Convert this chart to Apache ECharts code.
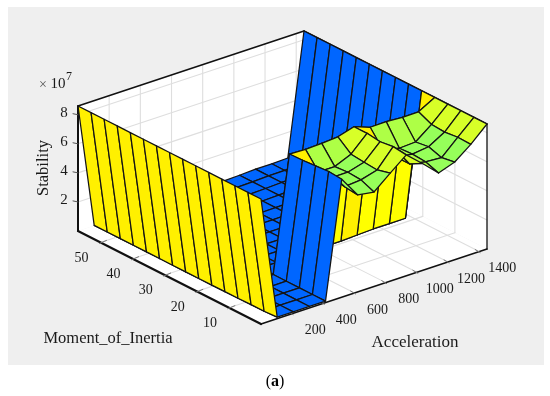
<!DOCTYPE html>
<html>
<head>
<meta charset="utf-8">
<style>html,body{margin:0;padding:0;background:#fff}#c{width:550px;height:396px}</style>
<script src="https://cdn.jsdelivr.net/npm/echarts@6/dist/echarts.min.js"></script>
</head>
<body>
<div id="c"></div>
<script>
// ---------- data ----------
const accelerationGrid = [0,104,207,311,414,518,621,725,829,932,1036,1139,1243,1346,1450];
const momentGrid = [0,4.07,8.14,12.21,16.29,20.36,24.43,28.5,32.57,36.64,40.71,44.79,48.86,52.93,57];
const accelerationTicks = [200,400,600,800,1000,1200,1400];
const momentTicks = [10,20,30,40,50];
const stabilityTicks = [2,4,6,8];
// Stability (x 10^7): one row per acceleration grid value, one column per moment grid value
const stabA00 = [8.6,8.6,8.6,8.6,8.6,8.6,8.6,8.6,8.6,8.6,8.6,8.6,8.6,8.6,8.6];
const stabA01 = [0.1,0.05,0.05,0.03,0.03,0.02,0.02,0.02,0.02,0.02,0.02,0.02,0.02,0.02,0.02];
const stabA02 = [0.1,0.1,0.1,0.1,0.1,0.1,0.1,0.1,0.1,0.1,0.1,0.1,0.1,0.1,0.1];
const stabA03 = [0.1,0.1,0.1,0.1,0.1,0.1,0.1,0.1,0.1,0.1,0.1,0.1,0.1,0.1,0.1];
const stabA04 = [0.1,0.1,0.1,0.1,0.1,0.1,0.1,0.1,0.1,0.1,0.1,0.1,0.1,0.1,0.1];
const stabA05 = [8.12,8.19,8.12,8.05,8.02,0.1,0.1,0.1,0.1,0.1,0.1,0.1,0.1,0.1,0.1];
const stabA06 = [6.67,6.78,6.95,6.88,7.98,0.1,0.1,0.1,0.1,0.1,0.1,0.1,0.1,0.1,0.1];
const stabA07 = [6.5,6.88,6.95,6.88,8.02,0.1,0.1,0.1,0.1,0.1,0.1,0.1,0.1,0.1,0.1];
const stabA08 = [7.43,7.19,7.26,7.36,8.1,0.1,0.1,0.1,0.1,0.1,0.1,0.1,0.1,0.1,0.1];
const stabA09 = [8.32,8.43,8.31,8.43,8.43,0.1,0.1,0.1,0.12,0.12,0.12,0.12,0.12,0.12,0.12];
const stabA10 = [7.36,6.88,6.88,6.88,8.02,0.15,0.15,0.15,0.15,0.15,0.15,0.15,0.15,0.15,0.15];
const stabA11 = [6.33,6.65,6.72,6.67,8.04,0.2,0.2,0.2,0.2,0.2,0.2,0.2,0.2,0.2,0.2];
const stabA12 = [6.72,6.56,6.86,6.73,7.97,0.2,0.2,0.2,0.2,0.2,0.2,0.2,0.2,0.2,0.2];
const stabA13 = [7.57,7.6,7.5,7.57,7.98,0.2,0.2,0.2,0.2,0.2,0.2,0.2,0.2,0.2,0.23];
const stabA14 = [8.6,8.6,8.6,8.6,8.6,8.6,8.6,8.6,8.6,8.6,8.6,8.6,8.6,8.6,8.6];
const stability = [stabA00,stabA01,stabA02,stabA03,stabA04,stabA05,stabA06,stabA07,stabA08,stabA09,stabA10,stabA11,stabA12,stabA13,stabA14];
// facet colour: index into facetPalette for each cell of the surface
const facetPalette = ['#0066FF','#96FF5A','#AEFF46','#D8FF28','#FFF000','#FFFF00'];
const shadeA00 = [4,4,4,4,4,4,4,4,4,4,4,4,4,4];
const shadeLow = [0,0,0,0,0,0,0,0,0,0,0,0,0,0];
const shadeA05 = [1,1,1,4,5,0,0,0,0,0,0,0,0,0];
const shadeA06 = [1,1,1,2,5,0,0,0,0,0,0,0,0,0];
const shadeA07 = [1,1,1,2,5,0,0,0,0,0,0,0,0,0];
const shadeA08 = [3,3,3,3,5,0,0,0,0,0,0,0,0,0];
const shadeA09 = [3,3,3,4,4,0,0,0,0,0,0,0,0,0];
const shadeA10 = [2,2,2,2,5,0,0,0,0,0,0,0,0,0];
const shadeA11 = [1,1,1,2,5,0,0,0,0,0,0,0,0,0];
const shadeA12 = [1,1,1,2,5,0,0,0,0,0,0,0,0,0];
const shadeA13 = [3,3,3,3,4,0,0,0,0,0,0,0,0,0];
const facetShade = [shadeA00,shadeLow,shadeLow,shadeLow,shadeLow,shadeA05,shadeA06,shadeA07,shadeA08,shadeA09,shadeA10,shadeA11,shadeA12,shadeA13];

// ---------- 3D view (axis limits and orthographic view vectors) ----------
const aMax = 1450, mMax = 57, zMax = 8.6;
const viewOrigin = [261,324], viewA = [226,-75], viewM = [-183,-93], viewZ = [0,-125];
function project(a,m,z){
  const u=a/aMax, v=m/mMax, w=z/zMax;
  return [viewOrigin[0]+u*viewA[0]+v*viewM[0]+w*viewZ[0],
          viewOrigin[1]+u*viewA[1]+v*viewM[1]+w*viewZ[1]];
}
const serif = '"Liberation Serif","Times New Roman",serif';
const ink = '#1a1a1a';

function frameItem(params, api){
  const P=(a,m,z)=>api.coord(project(a,m,z));
  const kids=[];
  const poly=(pts,fill)=>kids.push({type:'polygon',shape:{points:pts},style:{fill:fill,stroke:null},silent:true});
  const line=(p,q,color,w)=>kids.push({type:'line',shape:{x1:p[0],y1:p[1],x2:q[0],y2:q[1]},style:{stroke:color,lineWidth:w,lineCap:'round'},silent:true});
  const text=(t,p,size)=>kids.push({type:'text',style:{text:t,x:p[0],y:p[1],font:size+'px '+serif,fill:ink,align:'center',verticalAlign:'middle'},silent:true});
  // white box walls and floor
  poly([P(0,mMax,0),P(aMax,mMax,0),P(aMax,mMax,zMax),P(0,mMax,zMax)],'#fff');
  poly([P(aMax,mMax,0),P(aMax,0,0),P(aMax,0,zMax),P(aMax,mMax,zMax)],'#fff');
  poly([P(0,0,0),P(aMax,0,0),P(aMax,mMax,0),P(0,mMax,0)],'#fff');
  // grid lines
  const g='#dedede';
  accelerationTicks.forEach(a=>{
    line(P(a,0,0),P(a,mMax,0),g,1.1);
    line(P(a,mMax,0),P(a,mMax,zMax),g,1.1);
  });
  momentTicks.forEach(m=>{
    line(P(0,m,0),P(aMax,m,0),g,1.1);
    line(P(aMax,m,0),P(aMax,m,zMax),g,1.1);
  });
  stabilityTicks.forEach(z=>{
    line(P(0,mMax,z),P(aMax,mMax,z),g,1.1);
    line(P(aMax,mMax,z),P(aMax,0,z),g,1.1);
  });
  // box edges
  const e='#111';
  line(P(0,mMax,zMax),P(aMax,mMax,zMax),e,1.6);
  line(P(aMax,mMax,zMax),P(aMax,0,zMax),e,1.5);
  line(P(0,mMax,zMax),P(0,mMax,0),e,2);
  line(P(aMax,0,zMax),P(aMax,0,0),e,1.3);
  line(P(0,mMax,0),P(0,0,0),e,2.2);
  line(P(0,0,0),P(aMax,0,0),e,1.6);
  // ticks and tick labels
  accelerationTicks.forEach(a=>{
    const p=P(a,0,0);
    line([p[0]-4,p[1]-2],[p[0]+1,p[1]+1],'#777',1);
    text(String(a),[p[0]+23,p[1]+17],14);
  });
  momentTicks.forEach(m=>{
    const p=P(0,m,0);
    line([p[0]-1,p[1]+1],[p[0]+6,p[1]-2],'#777',1);
    text(String(m),[p[0]-19,p[1]+15.5],14);
  });
  stabilityTicks.forEach(z=>{
    const p=P(0,mMax,z);
    line([p[0]-5,p[1]-1],[p[0],p[1]],'#555',1);
    text(String(z),[p[0]-14,p[1]-2],15);
  });
  return {type:'group',children:kids};
}

function facetItem(params, api){
  const i=api.value(0), j=api.value(1);
  const V=(r,c)=>api.coord(project(accelerationGrid[r],momentGrid[c],stability[r][c]));
  return {type:'polygon',silent:true,
    shape:{points:[V(i,j),V(i+1,j),V(i+1,j+1),V(i,j+1)]},
    style:{fill:facetPalette[facetShade[i][j]],stroke:'#141414',lineWidth:1.25,lineJoin:'round'}};
}

const facets=[];
for(let i=13;i>=0;i--) for(let j=13;j>=0;j--) facets.push([i,j]);

const chart=echarts.init(document.getElementById('c'),null,{renderer:'canvas'});
chart.setOption({
  animation:false,
  backgroundColor:'#fff',
  grid:{show:true,left:8,top:7,width:536,height:358,backgroundColor:'#EFEFEF',borderWidth:0},
  xAxis:{type:'value',min:8,max:544,show:false},
  yAxis:{type:'value',min:7,max:365,inverse:true,show:false},
  series:[
    {type:'custom',name:'box',coordinateSystem:'cartesian2d',clip:false,silent:true,z:1,data:[[0,0]],renderItem:frameItem},
    {type:'custom',name:'Stability surface',coordinateSystem:'cartesian2d',clip:false,silent:true,z:2,data:facets,
     encode:{x:0,y:1},renderItem:facetItem}
  ],
  graphic:[
    {type:'text',silent:true,x:44,y:168,rotation:Math.PI/2,
      style:{text:'Stability',font:'16.5px '+serif,fill:ink,align:'center',verticalAlign:'middle'}},
    {type:'text',silent:true,x:108,y:339,style:{text:'Moment_of_Inertia',font:'16.5px '+serif,fill:ink,align:'center',verticalAlign:'middle'}},
    {type:'text',silent:true,x:415,y:343,style:{text:'Acceleration',font:'17px '+serif,fill:ink,align:'center',verticalAlign:'middle'}},
    {type:'text',silent:true,x:43,y:85,style:{text:'×',font:'14px '+serif,fill:'#555',align:'center',verticalAlign:'middle'}},
    {type:'text',silent:true,x:58,y:84,style:{text:'10',font:'15px '+serif,fill:ink,align:'center',verticalAlign:'middle'}},
    {type:'text',silent:true,x:69,y:77,style:{text:'7',font:'12px '+serif,fill:ink,align:'center',verticalAlign:'middle'}},
    {type:'text',silent:true,x:275,y:382,style:{
      text:'{n|(}{b|a}{n|)}',align:'center',verticalAlign:'middle',
      rich:{n:{font:'16px '+serif,fill:'#000'},b:{font:'bold 16px '+serif,fill:'#000'}}}}
  ]
});
</script>
</body>
</html>
